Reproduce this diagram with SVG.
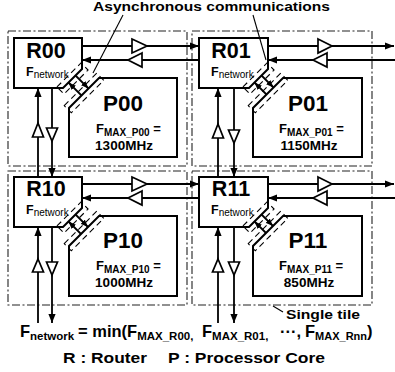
<svg xmlns="http://www.w3.org/2000/svg" width="395" height="372" viewBox="0 0 395 372">
<defs>
<style>
.tile{fill:none;stroke:#222;stroke-width:1.1;stroke-dasharray:8 2.5 2 2.5}
.box{fill:#fff;stroke:#000;stroke-width:2}
.ln{fill:none;stroke:#000;stroke-width:1.8}
.thin{fill:none;stroke:#000;stroke-width:1.1}
.buf{fill:#fff;stroke:#000;stroke-width:1.7;stroke-linejoin:miter}
.dash{fill:none;stroke:#000;stroke-width:1.1;stroke-dasharray:6 4}
text{font-family:"Liberation Sans",Arial,Helvetica,sans-serif;fill:#000}
.b{font-weight:bold}
.rn{font-size:21.5px;font-weight:bold;text-anchor:middle}
.pn{font-size:22.5px;font-weight:bold;text-anchor:middle}
.fq{font-size:13.5px;font-weight:bold;text-anchor:middle}
</style>
<marker id="ah" viewBox="0 0 10 8" refX="10" refY="4" markerWidth="9" markerHeight="7.5" markerUnits="userSpaceOnUse" orient="auto"><path d="M0,0L10,4L0,8z" fill="#000"/></marker>
<marker id="ah2" viewBox="0 0 10 8" refX="10" refY="4" markerWidth="7.5" markerHeight="6.5" markerUnits="userSpaceOnUse" orient="auto"><path d="M0,0L10,4L0,8z" fill="#000"/></marker>
</defs>
<rect width="395" height="372" fill="#fff"/>

<g id="tile00">
<rect class="tile" x="8" y="31" width="179" height="135"/>
<g id="R00">
<polygon class="box" points="14,38 82,38 82,69 63,88 14,88"/>
<text class="rn" x="46" y="58">R00</text>
<text x="26" y="75.5" font-size="12.5" class="b">F<tspan dy="2.5" font-size="10" font-weight="normal">network</tspan></text>
</g>
<g id="P00">
<polygon class="box" points="99,78 177,78 177,157 69,157 69,108"/>
<text class="pn" x="123" y="111">P00</text>
<text x="96" y="133" font-size="13" class="b">F<tspan dy="3" font-size="10">MAX_P00</tspan><tspan dy="-3"> =</tspan></text>
<text class="fq" x="124" y="150">1300MHz</text>
</g>
</g>

<g id="tile01">
<rect class="tile" x="192" y="31" width="180" height="135"/>
<g id="R01">
<polygon class="box" points="199,38 268,38 268,69 249,88 199,88"/>
<text class="rn" x="231" y="58">R01</text>
<text x="211" y="75.5" font-size="12.5" class="b">F<tspan dy="2.5" font-size="10" font-weight="normal">network</tspan></text>
</g>
<g id="P01">
<polygon class="box" points="283,78 362,78 362,157 253,157 253,108"/>
<text class="pn" x="308" y="111">P01</text>
<text x="279" y="133" font-size="13" class="b">F<tspan dy="3" font-size="10">MAX_P01</tspan><tspan dy="-3"> =</tspan></text>
<text class="fq" x="309" y="150">1150MHz</text>
</g>
</g>

<g id="tile10">
<rect class="tile" x="8" y="171" width="179" height="134"/>
<g id="R10">
<polygon class="box" points="14,177 82,177 82,208 63,227 14,227"/>
<text class="rn" x="46" y="196">R10</text>
<text x="26" y="213.5" font-size="12.5" class="b">F<tspan dy="2.5" font-size="10" font-weight="normal">network</tspan></text>
</g>
<g id="P10">
<polygon class="box" points="99,216 177,216 177,296 69,296 69,246"/>
<text class="pn" x="123" y="248">P10</text>
<text x="96" y="270" font-size="13" class="b">F<tspan dy="3" font-size="10">MAX_P10</tspan><tspan dy="-3"> =</tspan></text>
<text class="fq" x="124" y="287">1000MHz</text>
</g>
</g>

<g id="tile11">
<rect class="tile" x="192" y="171" width="180" height="134"/>
<g id="R11">
<polygon class="box" points="199,177 268,177 268,208 249,227 199,227"/>
<text class="rn" x="231" y="196">R11</text>
<text x="211" y="213.5" font-size="12.5" class="b">F<tspan dy="2.5" font-size="10" font-weight="normal">network</tspan></text>
</g>
<g id="P11">
<polygon class="box" points="283,216 362,216 362,296 253,296 253,246"/>
<text class="pn" x="308" y="248">P11</text>
<text x="279" y="270" font-size="13" class="b">F<tspan dy="3" font-size="10">MAX_P11</tspan><tspan dy="-3"> =</tspan></text>
<text class="fq" x="309" y="287">850MHz</text>
</g>
</g>

<g id="async-interfaces">
<rect class="dash" x="-17" y="-5" width="34" height="10" transform="translate(72.5,78.5) rotate(-45)"/>
<rect class="dash" x="-23" y="-5" width="46" height="10" transform="translate(84,93) rotate(-45)"/>
<rect class="dash" x="-17" y="-5" width="34" height="10" transform="translate(258.5,78.5) rotate(-45)"/>
<rect class="dash" x="-23" y="-5" width="46" height="10" transform="translate(268,93) rotate(-45)"/>
<rect class="dash" x="-17" y="-5" width="34" height="10" transform="translate(72.5,217.5) rotate(-45)"/>
<rect class="dash" x="-23" y="-5" width="46" height="10" transform="translate(84,231) rotate(-45)"/>
<rect class="dash" x="-17" y="-5" width="34" height="10" transform="translate(258.5,217.5) rotate(-45)"/>
<rect class="dash" x="-23" y="-5" width="46" height="10" transform="translate(268,231) rotate(-45)"/>
</g>

<g id="connectors">
<line class="ln" x1="75.5" y1="75.5" x2="88.5" y2="88.5" marker-end="url(#ah2)"/>
<line class="ln" x1="81.5" y1="95.5" x2="68.5" y2="82.5" marker-end="url(#ah2)"/>
<line class="ln" x1="261.5" y1="75.5" x2="273.5" y2="87.5" marker-end="url(#ah2)"/>
<line class="ln" x1="266.5" y1="94.5" x2="254.5" y2="82.5" marker-end="url(#ah2)"/>
<line class="ln" x1="75.5" y1="214.5" x2="88" y2="227" marker-end="url(#ah2)"/>
<line class="ln" x1="81" y1="234" x2="68.5" y2="221.5" marker-end="url(#ah2)"/>
<line class="ln" x1="261.5" y1="214.5" x2="273" y2="226" marker-end="url(#ah2)"/>
<line class="ln" x1="266" y1="233" x2="254.5" y2="221.5" marker-end="url(#ah2)"/>

<line class="ln" x1="82" y1="46" x2="199" y2="46" marker-end="url(#ah)"/>
<polygon class="buf" points="132,39 147,46 132,53"/>
<line class="ln" x1="199" y1="60" x2="82" y2="60" marker-end="url(#ah)"/>
<polygon class="buf" points="142,53 128,60 142,67"/>
<line class="ln" x1="268" y1="46" x2="394" y2="46" marker-end="url(#ah)"/>
<polygon class="buf" points="318,39 332,46 318,53"/>
<line class="ln" x1="395" y1="60" x2="268" y2="60" marker-end="url(#ah)"/>
<polygon class="buf" points="327,53 313,60 327,67"/>

<line class="ln" x1="82" y1="184" x2="199" y2="184" marker-end="url(#ah)"/>
<polygon class="buf" points="132,177 147,184 132,191"/>
<line class="ln" x1="199" y1="198" x2="82" y2="198" marker-end="url(#ah)"/>
<polygon class="buf" points="142,191 128,198 142,205"/>
<line class="ln" x1="268" y1="184" x2="394" y2="184" marker-end="url(#ah)"/>
<polygon class="buf" points="318,177 332,184 318,191"/>
<line class="ln" x1="395" y1="198" x2="268" y2="198" marker-end="url(#ah)"/>
<polygon class="buf" points="327,191 313,198 327,205"/>

<line class="ln" x1="38" y1="177" x2="38" y2="88" marker-end="url(#ah)"/>
<polygon class="buf" points="38,123 43.5,137 32.5,137"/>
<line class="ln" x1="52" y1="88" x2="52" y2="177" marker-end="url(#ah)"/>
<polygon class="buf" points="46.5,128 57.5,128 52,141"/>
<line class="ln" x1="38" y1="323" x2="38" y2="227" marker-end="url(#ah)"/>
<polygon class="buf" points="38,259 43.5,272 32.5,272"/>
<line class="ln" x1="52" y1="227" x2="52" y2="323" marker-end="url(#ah)"/>
<polygon class="buf" points="46.5,262 57.5,262 52,275"/>

<line class="ln" x1="218" y1="177" x2="218" y2="88" marker-end="url(#ah)"/>
<polygon class="buf" points="218,124 223.5,138 212.5,138"/>
<line class="ln" x1="234" y1="88" x2="234" y2="177" marker-end="url(#ah)"/>
<polygon class="buf" points="228.5,130 239.5,130 234,143"/>
<line class="ln" x1="218" y1="323" x2="218" y2="227" marker-end="url(#ah)"/>
<polygon class="buf" points="218,259 223.5,272 212.5,272"/>
<line class="ln" x1="234" y1="227" x2="234" y2="323" marker-end="url(#ah)"/>
<polygon class="buf" points="228.5,262 239.5,262 234,275"/>

<line class="thin" x1="123" y1="15" x2="93" y2="73"/>
<line class="thin" x1="253" y1="15" x2="266" y2="60"/>
<line class="thin" x1="273" y1="306" x2="283" y2="312"/>
</g>

<g id="labels">
<text class="b" x="93" y="11" font-size="13.5" textLength="237" lengthAdjust="spacingAndGlyphs">Asynchronous communications</text>
<text class="b" x="286" y="319" font-size="13.5" textLength="74" lengthAdjust="spacingAndGlyphs">Single tile</text>
<text class="b" y="337" font-size="16.5"><tspan x="20">F</tspan><tspan dy="3" font-size="11.5">network</tspan><tspan x="78" dy="-3">= min(F</tspan><tspan dy="3" font-size="11.5">MAX_R00,</tspan><tspan x="202" dy="-3">F</tspan><tspan dy="3" font-size="11.5">MAX_R01,</tspan><tspan x="280" dy="-3">···,</tspan><tspan x="305">F</tspan><tspan dy="3" font-size="11">MAX_Rnn</tspan><tspan dy="-3">)</tspan></text>
<text class="b" x="63" y="363" font-size="15.5" textLength="84" lengthAdjust="spacingAndGlyphs">R : Router</text>
<text class="b" x="168" y="363" font-size="15.5" textLength="157" lengthAdjust="spacingAndGlyphs">P : Processor Core</text>
</g>
</svg>
